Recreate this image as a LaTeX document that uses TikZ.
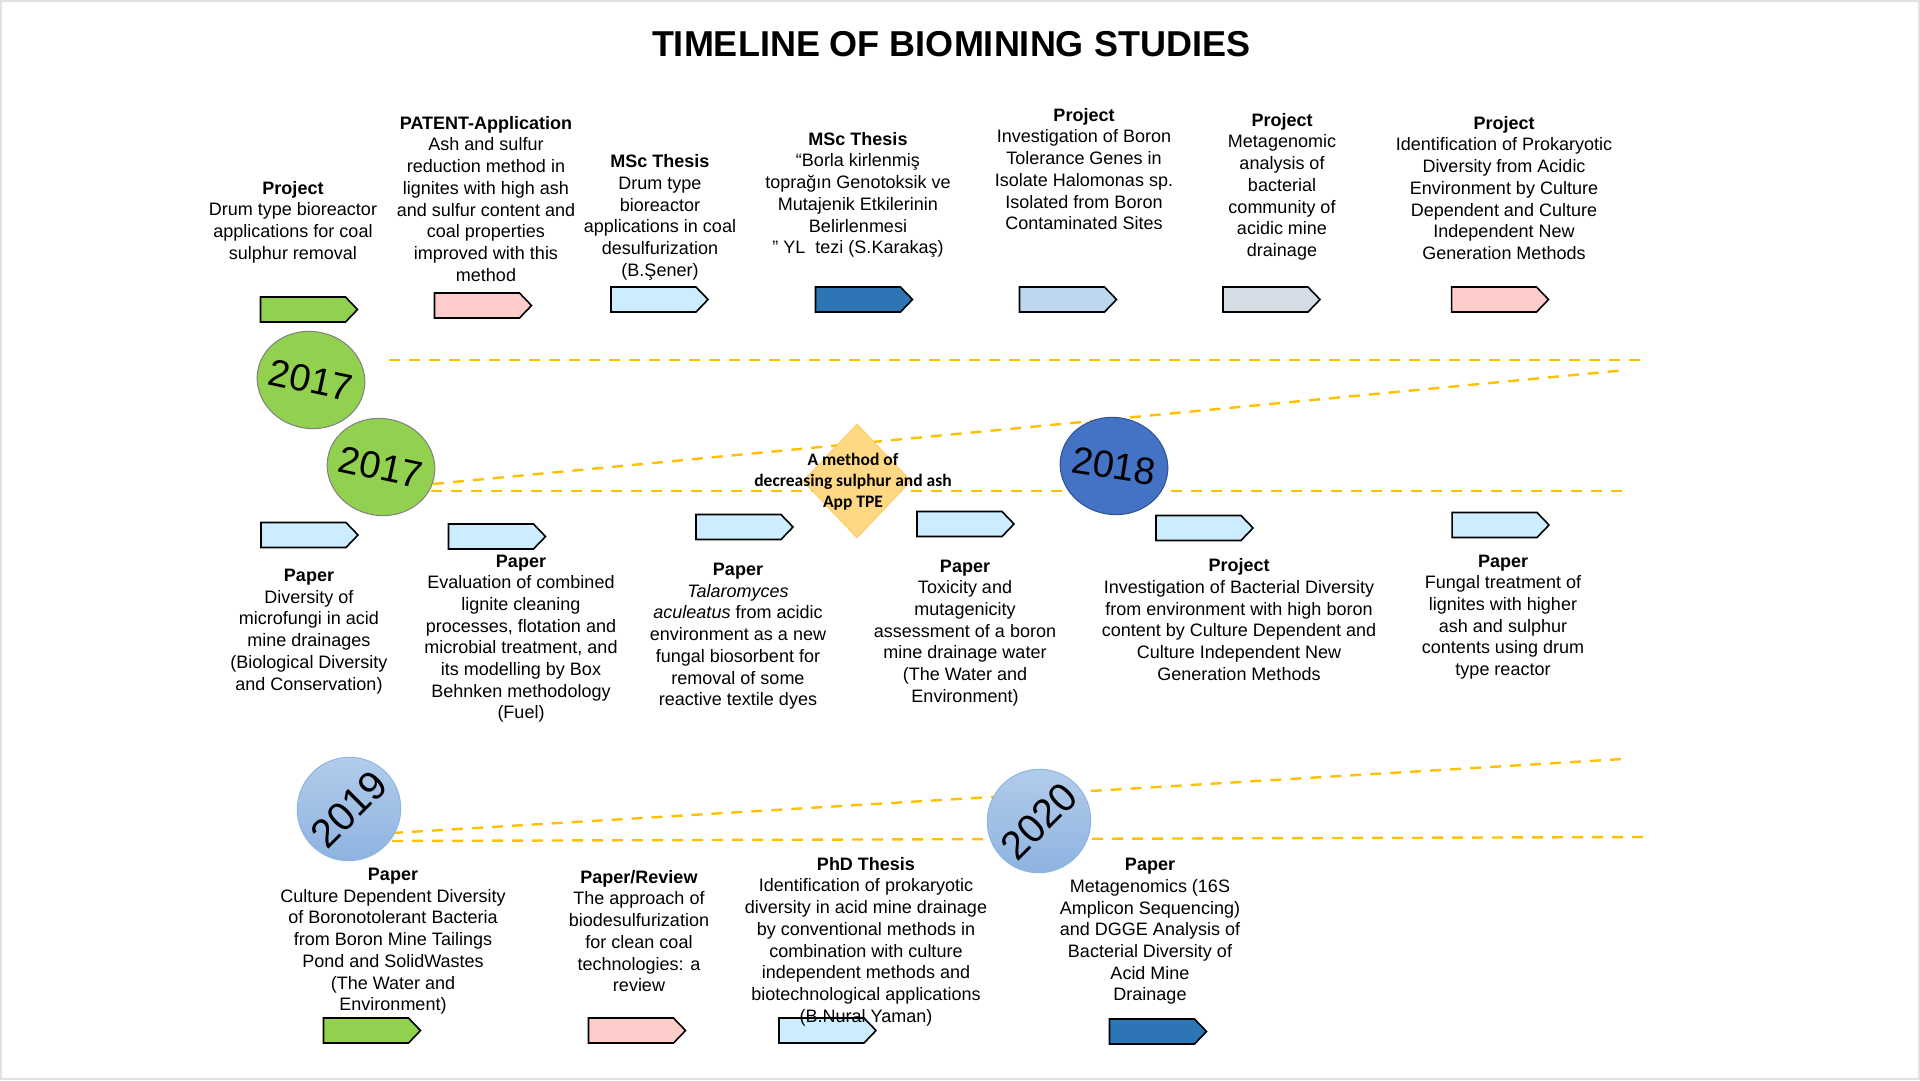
\documentclass[tikz,border=0pt]{standalone}
\usepackage{fontspec}
\setmainfont{Liberation Sans}
\newfontfamily\calibrifont{Carlito}
\usetikzlibrary{shapes.geometric,shapes.symbols}
\definecolor{leafgreen}{HTML}{92D050}
\definecolor{softpink}{HTML}{FFCCCC}
\definecolor{paleblue}{HTML}{CCECFF}
\definecolor{deepblue}{HTML}{2E75B6}
\definecolor{steelblue}{HTML}{BDD7EE}
\definecolor{mistgray}{HTML}{D6DCE5}
\definecolor{royalblue}{HTML}{4472C4}
\definecolor{royaledge}{HTML}{2F528F}
\definecolor{skylight}{HTML}{B4CDEB}
\definecolor{skydark}{HTML}{8CB2E0}
\definecolor{skyedge}{HTML}{8DB6E2}
\definecolor{amber}{HTML}{FFC000}
\definecolor{sandfill}{HTML}{FFD884}
\definecolor{sandedge}{HTML}{FFCD66}

\begin{document}
\begin{tikzpicture}[
  x=1pt, y=-1pt,
  flagbox/.style={shape=signal, signal to=east, signal pointer angle=92, draw=black, line width=1.6pt, minimum width=97pt, minimum height=25pt, inner sep=0pt, xshift=-6pt},
  note/.style={align=center, anchor=north, inner sep=0pt, font=\fontsize{18}{21.7}\selectfont},
  year/.style={ellipse, minimum width=108pt, minimum height=97pt, inner sep=0pt, line width=1pt},
  yeartext/.style={inner sep=0pt, font=\fontsize{38}{40}\selectfont},
  guide/.style={draw=amber, line width=2.4pt, dash pattern=on 11pt off 9pt}
]
  \useasboundingbox (0,0) rectangle (1920,1080);
  \draw[black!12, line width=2pt] (1,1) rectangle (1919,1079);

  \node[font=\bfseries\fontsize{36}{40}\selectfont, inner sep=0pt] (title) at (951,44) {TIMELINE OF BIOMINING STUDIES};

  \coordinate (aL) at (389,360);  \coordinate (aR) at (1644,360);
  \coordinate (bL) at (433,484);  \coordinate (bR) at (1626,370);
  \coordinate (cL) at (431,491);  \coordinate (cR) at (1626,491);
  \coordinate (dL) at (392,833);  \coordinate (dR) at (1623,759);
  \coordinate (eL) at (392,841);  \coordinate (eR) at (1645,837);
  \draw[guide] (aL) -- (aR);
  \draw[guide] (bL) -- (bR);
  \draw[guide] (cL) -- (cR);
  \draw[guide] (dL) -- (dR);
  \draw[guide] (eL) -- (eR);

  \node[year, fill=leafgreen, draw=black!50, rotate=-10] (y17a) at (311,380) {};
  \node[yeartext, rotate=-12] (y17atext) at (y17a) {2017};
  \node[year, fill=leafgreen, draw=black!50, rotate=-10] (y17b) at (381,467) {};
  \node[yeartext, rotate=-12] (y17btext) at (y17b) {2017};
  \node[year, fill=royalblue, draw=royaledge, rotate=-10] (y18) at (1114,466) {};
  \node[yeartext, rotate=-9] (y18text) at (y18) {2018};
  \node[year, minimum width=104pt, minimum height=103pt, top color=skylight, bottom color=skydark, draw=skyedge, rotate=45] (y19) at (349,809) {};
  \node[yeartext, rotate=45, font=\fontsize{40}{42}\selectfont] (y19text) at (y19) {2019};
  \node[year, minimum width=104pt, minimum height=103pt, top color=skylight, bottom color=skydark, draw=skyedge, rotate=45] (y20) at (1039,821) {};
  \node[yeartext, rotate=45, font=\fontsize{40}{42}\selectfont] (y20text) at (y20) {2020};

  \node[diamond, minimum width=108pt, minimum height=114pt, inner sep=0pt, fill=sandfill, draw=sandedge, line width=1pt] (tpe) at (857,481) {};
  \node[font=\calibrifont\bfseries\fontsize{17.5}{20.8}\selectfont, align=center, inner sep=0pt] (tpetext) at (853,482) {A method of\\decreasing sulphur and ash\\App TPE};

  \node[flagbox, fill=leafgreen] (t1flag) at (309,309.5) {};
  \node[flagbox, fill=softpink] (t2flag) at (483,305.5) {};
  \node[flagbox, fill=paleblue] (t3flag) at (659.5,299.5) {};
  \node[flagbox, fill=deepblue] (t4flag) at (864,299.5) {};
  \node[flagbox, fill=steelblue] (t5flag) at (1068,299.5) {};
  \node[flagbox, fill=mistgray] (t6flag) at (1271.5,299.5) {};
  \node[flagbox, fill=softpink] (t7flag) at (1500,299.5) {};

  \node[note] (t1text) at (293,181) {\textbf{Project}\\Drum type bioreactor\\applications for coal\\sulphur removal};
  \node[note] (t2text) at (486,116) {\textbf{PATENT-Application}\\Ash and sulfur\\reduction method in\\lignites with high ash\\and sulfur content and\\coal properties\\improved with this\\method};
  \node[note] (t3text) at (660,154.5) {\textbf{MSc Thesis}\\Drum type\\bioreactor\\applications in coal\\desulfurization\\(B.Şener)};
  \node[note] (t4text) at (858,132) {\textbf{MSc Thesis}\\“Borla kirlenmiş\\toprağın Genotoksik ve\\Mutajenik Etkilerinin\\Belirlenmesi\\”~YL~~tezi (S.Karakaş)};
  \node[note] (t5text) at (1084,108) {\textbf{Project}\\Investigation of Boron\\Tolerance Genes in\\Isolate Halomonas sp.\\Isolated from Boron\\Contaminated Sites};
  \node[note] (t6text) at (1282,113) {\textbf{Project}\\Metagenomic\\analysis of\\bacterial\\community of\\acidic mine\\drainage};
  \node[note] (t7text) at (1504,116) {\textbf{Project}\\Identification of Prokaryotic\\Diversity from Acidic\\Environment by Culture\\Dependent and Culture\\Independent New\\Generation Methods};

  \node[flagbox, fill=paleblue] (m1flag) at (309.5,535) {};
  \node[flagbox, fill=paleblue] (m2flag) at (497,536.5) {};
  \node[flagbox, fill=paleblue] (m3flag) at (744.5,527) {};
  \node[flagbox, fill=paleblue] (m4flag) at (965.5,524) {};
  \node[flagbox, fill=paleblue] (m5flag) at (1204.5,528) {};
  \node[flagbox, fill=paleblue] (m6flag) at (1500.5,525) {};

  \node[note] (m1text) at (309,569) {\textbf{Paper}\\Diversity of\\microfungi in acid\\mine drainages\\(Biological Diversity\\and Conservation)};
  \node[note] (m2text) at (521,554.5) {\textbf{Paper}\\Evaluation of combined\\lignite cleaning\\processes, flotation and\\microbial treatment, and\\its modelling by Box\\Behnken methodology\\(Fuel)};
  \node[note] (m3text) at (738,563) {\textbf{Paper}\\\textit{Talaromyces}\\\textit{aculeatus} from acidic\\environment as a new\\fungal biosorbent for\\removal of some\\reactive textile dyes};
  \node[note] (m4text) at (965,559.5) {\textbf{Paper}\\Toxicity and\\mutagenicity\\assessment of a boron\\mine drainage water\\(The Water and\\Environment)};
  \node[note] (m5text) at (1239,558.5) {\textbf{Project}\\Investigation of Bacterial Diversity\\from environment with high boron\\content by Culture Dependent and\\Culture Independent New\\Generation Methods};
  \node[note] (m6text) at (1503,554.5) {\textbf{Paper}\\Fungal treatment of\\lignites with higher\\ash and sulphur\\contents using drum\\type reactor};

  \node[flagbox, fill=leafgreen] (b1flag) at (372,1030.5) {};
  \node[flagbox, fill=softpink] (b2flag) at (637,1030.5) {};
  \node[flagbox, fill=paleblue] (b3flag) at (827.5,1030.5) {};
  \node[flagbox, fill=deepblue] (b4flag) at (1158,1031.5) {};

  \node[note] (b1text) at (393,868) {\textbf{Paper}\\Culture Dependent Diversity\\of Boronotolerant Bacteria\\from Boron Mine Tailings\\Pond and SolidWastes\\(The Water and\\Environment)};
  \node[note] (b2text) at (639,870) {\textbf{Paper/Review}\\The approach of\\biodesulfurization\\for clean coal\\technologies: a\\review};
  \node[note] (b3text) at (866,857) {\textbf{PhD Thesis}\\Identification of prokaryotic\\diversity in acid mine drainage\\by conventional methods in\\combination with culture\\independent methods and\\biotechnological applications\\(B.Nural Yaman)};
  \node[note] (b4text) at (1150,858) {\textbf{Paper}\\Metagenomics (16S\\Amplicon Sequencing)\\and DGGE Analysis of\\Bacterial Diversity of\\Acid Mine\\Drainage};
\end{tikzpicture}
\end{document}
